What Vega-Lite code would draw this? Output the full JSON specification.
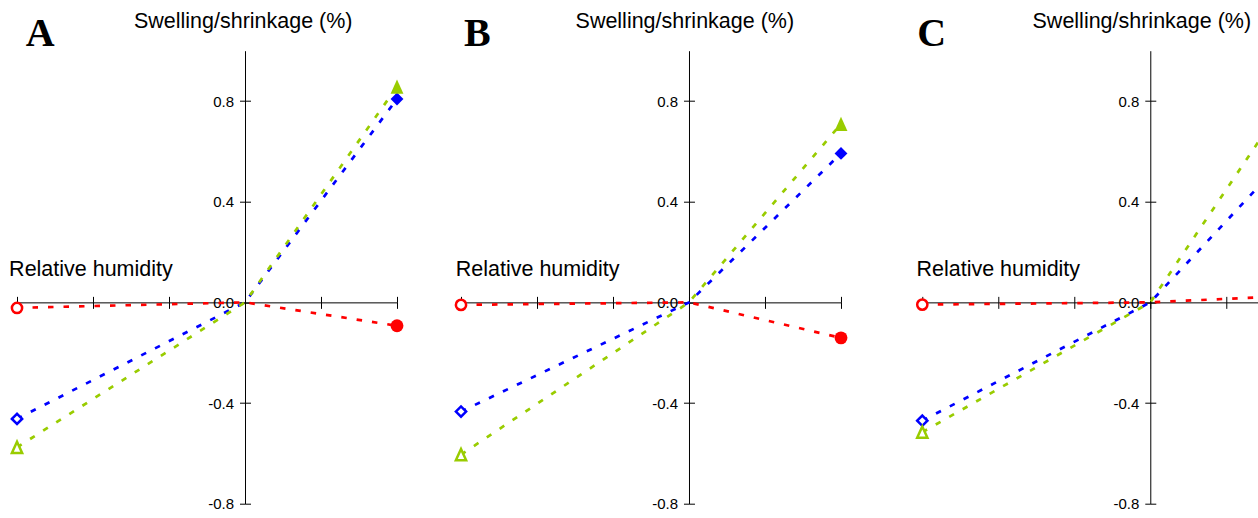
{
  "$schema": "https://vega.github.io/schema/vega-lite/v6.json",
  "padding": {"left": 6, "top": 9.7, "right": 0, "bottom": 0},
  "background": "white",
  "data": {"values": [
    {"panel": "A", "direction": "Radial", "rh": -3, "swelling": -0.463},
    {"panel": "A", "direction": "Radial", "rh": 0, "swelling": 0},
    {"panel": "A", "direction": "Radial", "rh": 2, "swelling": 0.808},
    {"panel": "A", "direction": "Tangential", "rh": -3, "swelling": -0.576},
    {"panel": "A", "direction": "Tangential", "rh": 0, "swelling": 0},
    {"panel": "A", "direction": "Tangential", "rh": 2, "swelling": 0.857},
    {"panel": "A", "direction": "Longitudinal", "rh": -3, "swelling": -0.022},
    {"panel": "A", "direction": "Longitudinal", "rh": 0, "swelling": 0},
    {"panel": "A", "direction": "Longitudinal", "rh": 2, "swelling": -0.093},
    {"panel": "B", "direction": "Radial", "rh": -3, "swelling": -0.434},
    {"panel": "B", "direction": "Radial", "rh": 0, "swelling": 0},
    {"panel": "B", "direction": "Radial", "rh": 2, "swelling": 0.592},
    {"panel": "B", "direction": "Tangential", "rh": -3, "swelling": -0.605},
    {"panel": "B", "direction": "Tangential", "rh": 0, "swelling": 0},
    {"panel": "B", "direction": "Tangential", "rh": 2, "swelling": 0.709},
    {"panel": "B", "direction": "Longitudinal", "rh": -3, "swelling": -0.010},
    {"panel": "B", "direction": "Longitudinal", "rh": 0, "swelling": 0},
    {"panel": "B", "direction": "Longitudinal", "rh": 2, "swelling": -0.141},
    {"panel": "C", "direction": "Radial", "rh": -3, "swelling": -0.470},
    {"panel": "C", "direction": "Radial", "rh": 0, "swelling": 0},
    {"panel": "C", "direction": "Radial", "rh": 2, "swelling": 0.646},
    {"panel": "C", "direction": "Tangential", "rh": -3, "swelling": -0.516},
    {"panel": "C", "direction": "Tangential", "rh": 0, "swelling": 0},
    {"panel": "C", "direction": "Tangential", "rh": 2, "swelling": 0.897},
    {"panel": "C", "direction": "Longitudinal", "rh": -3, "swelling": -0.009},
    {"panel": "C", "direction": "Longitudinal", "rh": 0, "swelling": 0},
    {"panel": "C", "direction": "Longitudinal", "rh": 2, "swelling": 0.028}
  ]},
  "bounds": "flush",
  "spacing": 64,
  "hconcat": [
    {
      "width": 380, "height": 453,
      "transform": [{"filter": "datum.panel === 'A'"}],
      "layer": [
        {
          "mark": {"type": "line", "strokeDash": [5.5, 10], "clip": true},
          "encoding": {
            "x": {"field": "rh", "type": "quantitative", "scale": {"domain": [-3, 2], "nice": false, "zero": false},
                  "axis": {"orient": "top", "offset": -251.67, "values": [-3, -2, -1, 0, 1, 2], "labels": false, "tickSize": 6,
                           "title": "Relative humidity", "titleX": -8.4, "titleY": -26.7, "titleAlign": "left", "titleBaseline": "alphabetic", "titleAngle": 0}},
            "y": {"field": "swelling", "type": "quantitative", "scale": {"domain": [-0.8, 1.0], "nice": false, "zero": false},
                  "axis": {"orient": "left", "offset": -228, "values": [-0.8, -0.4, 0, 0.4, 0.8], "tickSize": 5.5, "labelPadding": 6,
                           "labelExpr": "(datum.value < 0 ? '-' : '') + format(abs(datum.value), '.1f')",
                           "title": "Swelling/shrinkage (%)", "titleX": -2.3, "titleY": -23.3, "titleAlign": "center", "titleBaseline": "alphabetic", "titleAngle": 0}},
            "color": {"field": "direction", "type": "nominal", "scale": {"domain": ["Radial", "Tangential", "Longitudinal"], "range": ["#0000FF", "#99CC00", "#FF0000"]}, "legend": null},
            "strokeWidth": {"field": "direction", "type": "nominal", "scale": {"domain": ["Radial", "Tangential", "Longitudinal"], "range": [2.7, 2.7, 3.2]}, "legend": null}
          }
        },
        {
          "transform": [{"filter": "datum.rh < 0"}],
          "mark": {"type": "point", "filled": false, "size": 105, "strokeWidth": 2.5, "opacity": 1},
          "encoding": {
            "x": {"field": "rh", "type": "quantitative", "axis": null},
            "y": {"field": "swelling", "type": "quantitative", "axis": null},
            "stroke": {"field": "direction", "type": "nominal", "scale": {"domain": ["Radial", "Tangential", "Longitudinal"], "range": ["#0000FF", "#99CC00", "#FF0000"]}, "legend": null},
            "fill": {"value": "white"},
            "shape": {"field": "direction", "type": "nominal", "scale": {"domain": ["Radial", "Tangential", "Longitudinal"], "range": ["diamond", "M0,-1.1L1,1.1L-1,1.1Z", "circle"]}, "legend": null}
          }
        },
        {
          "transform": [{"filter": "datum.rh > 0"}],
          "mark": {"type": "point", "filled": true, "size": 165, "strokeWidth": 0, "opacity": 1},
          "encoding": {
            "x": {"field": "rh", "type": "quantitative",
                  "axis": {"orient": "bottom", "offset": -201.33, "values": [-3, -2, -1, 0, 1, 2], "labels": false, "domain": false, "tickSize": 6,
                           "title": "A", "titleX": 8.3, "titleY": -256.7, "titleAlign": "left", "titleBaseline": "alphabetic", "titleAngle": 0,
                           "titleFont": "Liberation Serif", "titleFontSize": 40, "titleFontWeight": "bold"}},
            "y": {"field": "swelling", "type": "quantitative",
                  "axis": {"orient": "right", "offset": -152, "values": [-0.8, -0.4, 0, 0.4, 0.8], "labels": false, "domain": false, "tickSize": 5.5, "title": null}},
            "color": {"field": "direction", "type": "nominal", "scale": {"domain": ["Radial", "Tangential", "Longitudinal"], "range": ["#0000FF", "#99CC00", "#FF0000"]}, "legend": null},
            "shape": {"field": "direction", "type": "nominal", "scale": {"domain": ["Radial", "Tangential", "Longitudinal"], "range": ["diamond", "M0,-1.1L1,1.1L-1,1.1Z", "circle"]}, "legend": null}
          }
        }
      ],
      "resolve": {"axis": {"x": "independent", "y": "independent"}}
    },
    {
      "bounds": "flush",
      "spacing": 81.3,
      "hconcat": [
        {
          "width": 380, "height": 453,
          "transform": [{"filter": "datum.panel === 'B'"}],
          "layer": [
            {
              "mark": {"type": "line", "strokeDash": [5.5, 10], "clip": true},
              "encoding": {
                "x": {"field": "rh", "type": "quantitative", "scale": {"domain": [-3, 2], "nice": false, "zero": false},
                      "axis": {"orient": "top", "offset": -251.67, "values": [-3, -2, -1, 0, 1, 2], "labels": false, "tickSize": 6,
                               "title": "Relative humidity", "titleX": -5.7, "titleY": -26.7, "titleAlign": "left", "titleBaseline": "alphabetic", "titleAngle": 0}},
                "y": {"field": "swelling", "type": "quantitative", "scale": {"domain": [-0.8, 1.0], "nice": false, "zero": false},
                      "axis": {"orient": "left", "offset": -228, "values": [-0.8, -0.4, 0, 0.4, 0.8], "tickSize": 5.5, "labelPadding": 6,
                               "labelExpr": "(datum.value < 0 ? '-' : '') + format(abs(datum.value), '.1f')",
                               "title": "Swelling/shrinkage (%)", "titleX": -4.7, "titleY": -23.3, "titleAlign": "center", "titleBaseline": "alphabetic", "titleAngle": 0}},
                "color": {"field": "direction", "type": "nominal", "scale": {"domain": ["Radial", "Tangential", "Longitudinal"], "range": ["#0000FF", "#99CC00", "#FF0000"]}, "legend": null},
                "strokeWidth": {"field": "direction", "type": "nominal", "scale": {"domain": ["Radial", "Tangential", "Longitudinal"], "range": [2.7, 2.7, 3.2]}, "legend": null}
              }
            },
            {
              "transform": [{"filter": "datum.rh < 0"}],
              "mark": {"type": "point", "filled": false, "size": 105, "strokeWidth": 2.5, "opacity": 1},
              "encoding": {
                "x": {"field": "rh", "type": "quantitative", "axis": null},
                "y": {"field": "swelling", "type": "quantitative", "axis": null},
                "stroke": {"field": "direction", "type": "nominal", "scale": {"domain": ["Radial", "Tangential", "Longitudinal"], "range": ["#0000FF", "#99CC00", "#FF0000"]}, "legend": null},
                "fill": {"value": "white"},
                "shape": {"field": "direction", "type": "nominal", "scale": {"domain": ["Radial", "Tangential", "Longitudinal"], "range": ["diamond", "M0,-1.1L1,1.1L-1,1.1Z", "circle"]}, "legend": null}
              }
            },
            {
              "transform": [{"filter": "datum.rh > 0"}],
              "mark": {"type": "point", "filled": true, "size": 165, "strokeWidth": 0, "opacity": 1},
              "encoding": {
                "x": {"field": "rh", "type": "quantitative",
                      "axis": {"orient": "bottom", "offset": -201.33, "values": [-3, -2, -1, 0, 1, 2], "labels": false, "domain": false, "tickSize": 6,
                               "title": "B", "titleX": 2.6, "titleY": -256.7, "titleAlign": "left", "titleBaseline": "alphabetic", "titleAngle": 0,
                               "titleFont": "Liberation Serif", "titleFontSize": 40, "titleFontWeight": "bold"}},
                "y": {"field": "swelling", "type": "quantitative",
                      "axis": {"orient": "right", "offset": -152, "values": [-0.8, -0.4, 0, 0.4, 0.8], "labels": false, "domain": false, "tickSize": 5.5, "title": null}},
                "color": {"field": "direction", "type": "nominal", "scale": {"domain": ["Radial", "Tangential", "Longitudinal"], "range": ["#0000FF", "#99CC00", "#FF0000"]}, "legend": null},
                "shape": {"field": "direction", "type": "nominal", "scale": {"domain": ["Radial", "Tangential", "Longitudinal"], "range": ["diamond", "M0,-1.1L1,1.1L-1,1.1Z", "circle"]}, "legend": null}
              }
            }
          ],
          "resolve": {"axis": {"x": "independent", "y": "independent"}}
        },
        {
          "width": 335.7, "height": 453,
          "transform": [{"filter": "datum.panel === 'C'"}],
          "layer": [
            {
              "mark": {"type": "line", "strokeDash": [5.5, 10], "clip": true},
              "encoding": {
                "x": {"field": "rh", "type": "quantitative", "scale": {"domain": [-3, 1.417], "nice": false, "zero": false},
                      "axis": {"orient": "top", "offset": -251.67, "values": [-3, -2, -1, 0, 1], "labels": false, "tickSize": 6,
                               "title": "Relative humidity", "titleX": -6.3, "titleY": -26.7, "titleAlign": "left", "titleBaseline": "alphabetic", "titleAngle": 0}},
                "y": {"field": "swelling", "type": "quantitative", "scale": {"domain": [-0.8, 1.0], "nice": false, "zero": false},
                      "axis": {"orient": "left", "offset": -228, "values": [-0.8, -0.4, 0, 0.4, 0.8], "tickSize": 5.5, "labelPadding": 6,
                               "labelExpr": "(datum.value < 0 ? '-' : '') + format(abs(datum.value), '.1f')",
                               "title": "Swelling/shrinkage (%)", "titleX": -9, "titleY": -23.3, "titleAlign": "center", "titleBaseline": "alphabetic", "titleAngle": 0}},
                "color": {"field": "direction", "type": "nominal", "scale": {"domain": ["Radial", "Tangential", "Longitudinal"], "range": ["#0000FF", "#99CC00", "#FF0000"]}, "legend": null},
                "strokeWidth": {"field": "direction", "type": "nominal", "scale": {"domain": ["Radial", "Tangential", "Longitudinal"], "range": [2.7, 2.7, 3.2]}, "legend": null}
              }
            },
            {
              "transform": [{"filter": "datum.rh < 0"}],
              "mark": {"type": "point", "filled": false, "size": 105, "strokeWidth": 2.5, "opacity": 1},
              "encoding": {
                "x": {"field": "rh", "type": "quantitative", "axis": null},
                "y": {"field": "swelling", "type": "quantitative", "axis": null},
                "stroke": {"field": "direction", "type": "nominal", "scale": {"domain": ["Radial", "Tangential", "Longitudinal"], "range": ["#0000FF", "#99CC00", "#FF0000"]}, "legend": null},
                "fill": {"value": "white"},
                "shape": {"field": "direction", "type": "nominal", "scale": {"domain": ["Radial", "Tangential", "Longitudinal"], "range": ["diamond", "M0,-1.1L1,1.1L-1,1.1Z", "circle"]}, "legend": null}
              }
            },
            {
              "transform": [{"filter": "datum.rh > 0"}],
              "mark": {"type": "point", "filled": true, "size": 165, "strokeWidth": 0, "opacity": 1, "clip": true},
              "encoding": {
                "x": {"field": "rh", "type": "quantitative",
                      "axis": {"orient": "bottom", "offset": -201.33, "values": [-3, -2, -1, 0, 1], "labels": false, "domain": false, "tickSize": 6,
                               "title": "C", "titleX": -5.6, "titleY": -256.7, "titleAlign": "left", "titleBaseline": "alphabetic", "titleAngle": 0,
                               "titleFont": "Liberation Serif", "titleFontSize": 40, "titleFontWeight": "bold"}},
                "y": {"field": "swelling", "type": "quantitative",
                      "axis": {"orient": "right", "offset": -107.7, "values": [-0.8, -0.4, 0, 0.4, 0.8], "labels": false, "domain": false, "tickSize": 5.5, "title": null}},
                "color": {"field": "direction", "type": "nominal", "scale": {"domain": ["Radial", "Tangential", "Longitudinal"], "range": ["#0000FF", "#99CC00", "#FF0000"]}, "legend": null},
                "shape": {"field": "direction", "type": "nominal", "scale": {"domain": ["Radial", "Tangential", "Longitudinal"], "range": ["diamond", "M0,-1.1L1,1.1L-1,1.1Z", "circle"]}, "legend": null}
              }
            }
          ],
          "resolve": {"axis": {"x": "independent", "y": "independent"}}
        }
      ]
    }
  ],
  "config": {
    "view": {"stroke": null},
    "axis": {
      "grid": false,
      "labelFont": "Liberation Sans", "labelFontSize": 15, "labelColor": "#000", "labelOverlap": false,
      "tickColor": "#000", "tickWidth": 1, "domainColor": "#000", "domainWidth": 1,
      "titleFont": "Liberation Sans", "titleFontSize": 21.5, "titleFontWeight": "normal", "titleColor": "#000"
    }
  }
}
